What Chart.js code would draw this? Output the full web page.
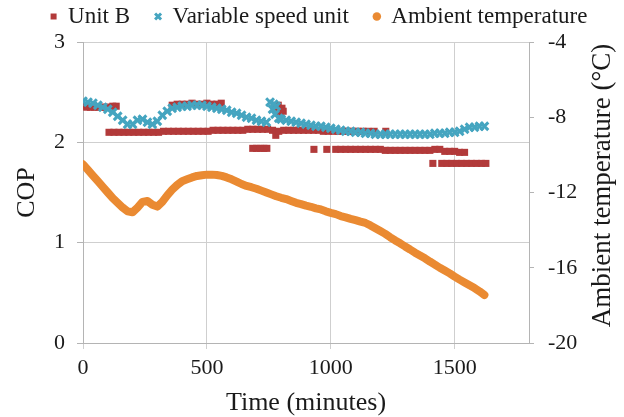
<!DOCTYPE html>
<html>
<head>
<meta charset="utf-8">
<script src="https://cdn.jsdelivr.net/npm/chart.js@4.4.1/dist/chart.umd.min.js"></script>
<style>
  html, body { margin: 0; padding: 0; background: #fff; }
  #wrap { width: 624px; height: 417px; position: relative; }
</style>
</head>
<body>
<div id="wrap"><canvas id="cop-chart"></canvas></div>
<script>
// Unit B (COP), several operating bands
const unitBTime = [
    0, 15, 30, 45, 60, 75, 90, 105, 120, 134,
    105, 125, 145, 165, 185, 205, 225, 245, 265, 285, 305, 325, 345, 365, 385, 405, 425,
    445, 465, 485, 505, 525, 545, 565, 585, 605, 625, 645, 665, 685, 705, 725, 745, 765,
    778, 790, 810, 830, 850, 870, 890, 910, 930, 950, 970, 990, 1010, 1030, 1050, 1070,
    1090, 1110, 1130, 1150, 1175, 1222,
    360, 380, 400, 420, 440, 460, 480, 500, 520, 540, 558,
    685, 700, 715, 730, 742,
    772, 780, 788, 795, 803, 808,
    932, 984, 1020, 1040, 1060, 1080, 1100, 1120, 1140, 1160, 1180, 1200, 1220, 1240,
    1260, 1280, 1300, 1320, 1340, 1360, 1380, 1400, 1420, 1440, 1460, 1480, 1500, 1520, 1540,
    1412, 1448, 1468, 1488, 1508, 1528, 1548, 1568, 1588, 1608, 1626
];
const unitBCop = [
    2.36, 2.35, 2.35, 2.35, 2.35, 2.35, 2.35, 2.35, 2.36, 2.36,
    2.10, 2.10, 2.10, 2.10, 2.10, 2.10, 2.10, 2.10, 2.10, 2.10, 2.10, 2.11, 2.11, 2.11, 2.11, 2.11, 2.11,
    2.11, 2.11, 2.11, 2.11, 2.12, 2.12, 2.12, 2.12, 2.12, 2.12, 2.12, 2.13, 2.13, 2.13, 2.13, 2.13, 2.12,
    2.07, 2.11, 2.12, 2.12, 2.12, 2.12, 2.12, 2.12, 2.12, 2.12, 2.11, 2.11, 2.11, 2.11, 2.11, 2.11,
    2.11, 2.11, 2.11, 2.11, 2.11, 2.11,
    2.37, 2.38, 2.38, 2.38, 2.39, 2.38, 2.38, 2.39, 2.38, 2.38, 2.39,
    1.94, 1.94, 1.94, 1.94, 1.94,
    2.36, 2.33, 2.37, 2.29, 2.34, 2.31,
    1.93, 1.93, 1.93, 1.93, 1.93, 1.93, 1.93, 1.93, 1.93, 1.93, 1.93, 1.93, 1.92, 1.92,
    1.92, 1.92, 1.92, 1.92, 1.92, 1.92, 1.92, 1.92, 1.93, 1.93, 1.91, 1.91, 1.91, 1.90, 1.90,
    1.79, 1.79, 1.79, 1.79, 1.79, 1.79, 1.79, 1.79, 1.79, 1.79, 1.79
];

// Variable speed unit (COP)
const vsTime = [
    0, 20, 40, 60, 80, 100, 120, 140, 160, 180, 200, 220, 240, 260, 280, 300, 320, 340,
    360, 380, 400, 420, 440, 460, 480, 500, 520, 540, 560, 580, 600, 620, 640, 660, 680,
    700, 720, 740, 755, 765, 770, 775, 780, 790, 800, 820, 840, 860, 880, 900, 920, 940,
    960, 980, 1000, 1020, 1040, 1060, 1080, 1100, 1120, 1140, 1160, 1180, 1200, 1220, 1240,
    1260, 1280, 1300, 1320, 1340, 1360, 1380, 1400, 1420, 1440, 1460, 1480, 1500, 1520,
    1540, 1560, 1580, 1600, 1620
];
const vsCop = [
    2.41, 2.40, 2.39, 2.37, 2.35, 2.33, 2.30, 2.26, 2.22, 2.18, 2.18, 2.22, 2.23, 2.20, 2.18, 2.21, 2.27, 2.31,
    2.34, 2.35, 2.36, 2.36, 2.37, 2.37, 2.37, 2.36, 2.35, 2.34, 2.33, 2.32, 2.30, 2.29, 2.27, 2.25, 2.24,
    2.22, 2.21, 2.20, 2.40, 2.33, 2.38, 2.28, 2.36, 2.24, 2.23, 2.22, 2.21, 2.20, 2.19, 2.18, 2.17, 2.16,
    2.16, 2.15, 2.14, 2.13, 2.12, 2.11, 2.11, 2.10, 2.10, 2.09, 2.09, 2.08, 2.08, 2.08, 2.08,
    2.08, 2.08, 2.08, 2.08, 2.08, 2.08, 2.08, 2.08, 2.09, 2.09, 2.09, 2.10, 2.10, 2.11,
    2.13, 2.15, 2.15, 2.16, 2.16
];

// Ambient temperature (°C)
const tempTime = [
    0, 20, 40, 60, 80, 100, 120, 140, 160, 180, 200, 220, 240, 260, 280, 300, 320, 340,
    360, 380, 400, 420, 440, 460, 480, 500, 520, 540, 560, 580, 600, 620, 640, 660, 680,
    700, 720, 740, 760, 780, 800, 820, 840, 860, 880, 900, 920, 940, 960, 980, 1000, 1020,
    1040, 1060, 1080, 1100, 1120, 1140, 1160, 1180, 1200, 1220, 1240, 1260, 1280, 1300,
    1320, 1340, 1360, 1380, 1400, 1420, 1440, 1460, 1480, 1500, 1520, 1540, 1560, 1580,
    1600, 1620
];
const tempValue = [
    -10.5, -10.8, -11.1, -11.4, -11.7, -12.0, -12.3, -12.55, -12.8, -13.0, -13.05, -12.8, -12.5, -12.45, -12.65, -12.75, -12.5, -12.15,
    -11.85, -11.6, -11.4, -11.3, -11.2, -11.12, -11.08, -11.05, -11.05, -11.07, -11.12, -11.2, -11.3, -11.42, -11.55, -11.65, -11.72,
    -11.8, -11.9, -12.0, -12.1, -12.2, -12.28, -12.35, -12.45, -12.55, -12.62, -12.7, -12.76, -12.84, -12.9, -13.0, -13.08, -13.15,
    -13.25, -13.32, -13.4, -13.47, -13.55, -13.62, -13.75, -13.9, -14.05, -14.2, -14.38, -14.55, -14.7, -14.87,
    -15.03, -15.2, -15.35, -15.5, -15.67, -15.83, -16.0, -16.15, -16.3, -16.47, -16.63, -16.78, -16.93, -17.08,
    -17.25, -17.45
];

// axis ranges: [min, max, step] and the x tick labels
const timeRange = [0, 1800, 500];
const timeTicks = [0, 500, 1000, 1500];
const copRange = [0, 3, 1];
const tempRange = [-20, -4, 4];

const serif = "'Liberation Serif', 'Times New Roman', serif";
const textColor = '#1a1a1a';
const gridColor = '#cfcfcf';
const axisColor = '#b4b4b4';

const toPoints = (xs, ys) => xs.map((x, i) => ({ x: x, y: ys[i] }));

// legend: tall box for spacing, items drawn higher up (inside the legend clip)
const legendNudge = {
    id: 'legendNudge',
    beforeInit(chart) {
        const legend = chart.legend;
        const fit = legend.fit;
        legend.fit = function () {
            fit.call(this);
            this.height = 42;
        };
        const drawItems = legend._draw;
        legend._draw = function () {
            const c = this.ctx;
            c.save();
            c.translate(7, -20);
            drawItems.call(this);
            c.restore();
        };
    }
};

// right axis title reads bottom-to-top like the left one
const rightTitle = {
    id: 'rightTitle',
    afterDraw(chart) {
        const ctx = chart.ctx;
        const area = chart.chartArea;
        ctx.save();
        ctx.translate(603, (area.top + area.bottom) / 2 - 7);
        ctx.rotate(-Math.PI / 2);
        ctx.font = '27px ' + serif;
        ctx.fillStyle = textColor;
        ctx.textAlign = 'center';
        ctx.textBaseline = 'middle';
        ctx.fillText('Ambient temperature (°C)', 0, 0);
        ctx.restore();
    }
};

const ctx = document.getElementById('cop-chart').getContext('2d');

new Chart(ctx, {
    type: 'scatter',
    data: {
        datasets: [
            {
                label: 'Unit B',
                data: toPoints(unitBTime, unitBCop),
                pointStyle: 'rect',
                pointRadius: 5,
                pointBackgroundColor: '#b23a3a',
                backgroundColor: '#b23a3a',
                borderColor: '#b23a3a',
                pointBorderWidth: 0,
                borderWidth: 0,
                yAxisID: 'y',
                order: 1
            },
            {
                label: 'Variable speed unit',
                data: toPoints(vsTime, vsCop),
                pointStyle: 'crossRot',
                pointRadius: 5.5,
                pointBorderColor: '#45a5c0',
                borderColor: '#45a5c0',
                backgroundColor: '#45a5c0',
                pointBorderWidth: 3,
                borderWidth: 2,
                yAxisID: 'y',
                order: 0
            },
            {
                label: 'Ambient temperature',
                data: toPoints(tempTime, tempValue),
                showLine: true,
                pointStyle: 'circle',
                pointRadius: 0,
                pointBackgroundColor: '#ea8a32',
                backgroundColor: '#ea8a32',
                borderColor: '#ea8a32',
                pointBorderWidth: 0,
                borderWidth: 8,
                borderCapStyle: 'round',
                borderJoinStyle: 'round',
                yAxisID: 'y1',
                order: 2
            }
        ]
    },
    options: {
        responsive: true,
        maintainAspectRatio: false,
        animation: false,
        layout: {
            padding: 0
        },
        plugins: {
            legend: {
                display: true,
                position: 'top',
                labels: {
                    usePointStyle: true,
                    boxHeight: 6,
                    boxWidth: 6,
                    padding: 25,
                    color: textColor,
                    font: {
                        family: serif,
                        size: 23
                    },
                    sort: (a, b) => a.datasetIndex - b.datasetIndex
                }
            },
            tooltip: {
                enabled: false
            }
        },
        scales: {
            x: {
                type: 'linear',
                min: timeRange[0],
                max: timeRange[1],
                afterFit: (scale) => { scale.height = 74; },
                afterBuildTicks: (scale) => {
                    scale.ticks = timeTicks.map((v) => ({ value: v }));
                },
                ticks: {
                    stepSize: timeRange[2],
                    color: textColor,
                    padding: 6,
                    maxRotation: 0,
                    autoSkip: false,
                    callback: (value) => String(value),
                    font: {
                        family: serif,
                        size: 22
                    }
                },
                grid: {
                    color: gridColor,
                    tickLength: 6,
                    tickColor: gridColor
                },
                border: {
                    color: axisColor
                },
                title: {
                    display: true,
                    text: 'Time (minutes)',
                    color: textColor,
                    padding: { top: 0, bottom: -2 },
                    font: {
                        family: serif,
                        size: 26
                    }
                }
            },
            y: {
                type: 'linear',
                position: 'left',
                min: copRange[0],
                max: copRange[1],
                afterFit: (scale) => { scale.width = 83; },
                ticks: {
                    stepSize: copRange[2],
                    color: textColor,
                    padding: 12,
                    font: {
                        family: serif,
                        size: 22
                    }
                },
                grid: {
                    color: gridColor,
                    tickLength: 6,
                    tickColor: axisColor
                },
                border: {
                    color: axisColor
                },
                title: {
                    display: true,
                    text: 'COP',
                    color: textColor,
                    padding: { top: 12, bottom: 0 },
                    font: {
                        family: serif,
                        size: 26
                    }
                }
            },
            y1: {
                type: 'linear',
                position: 'right',
                min: tempRange[0],
                max: tempRange[1],
                afterFit: (scale) => { scale.width = 95; },
                ticks: {
                    stepSize: tempRange[2],
                    color: textColor,
                    padding: 14,
                    font: {
                        family: serif,
                        size: 22
                    }
                },
                grid: {
                    drawOnChartArea: false,
                    tickLength: 5,
                    tickColor: axisColor
                },
                border: {
                    color: axisColor
                },
                title: {
                    display: false
                }
            }
        }
    },
    plugins: [legendNudge, rightTitle]
});
</script>
</body>
</html>
